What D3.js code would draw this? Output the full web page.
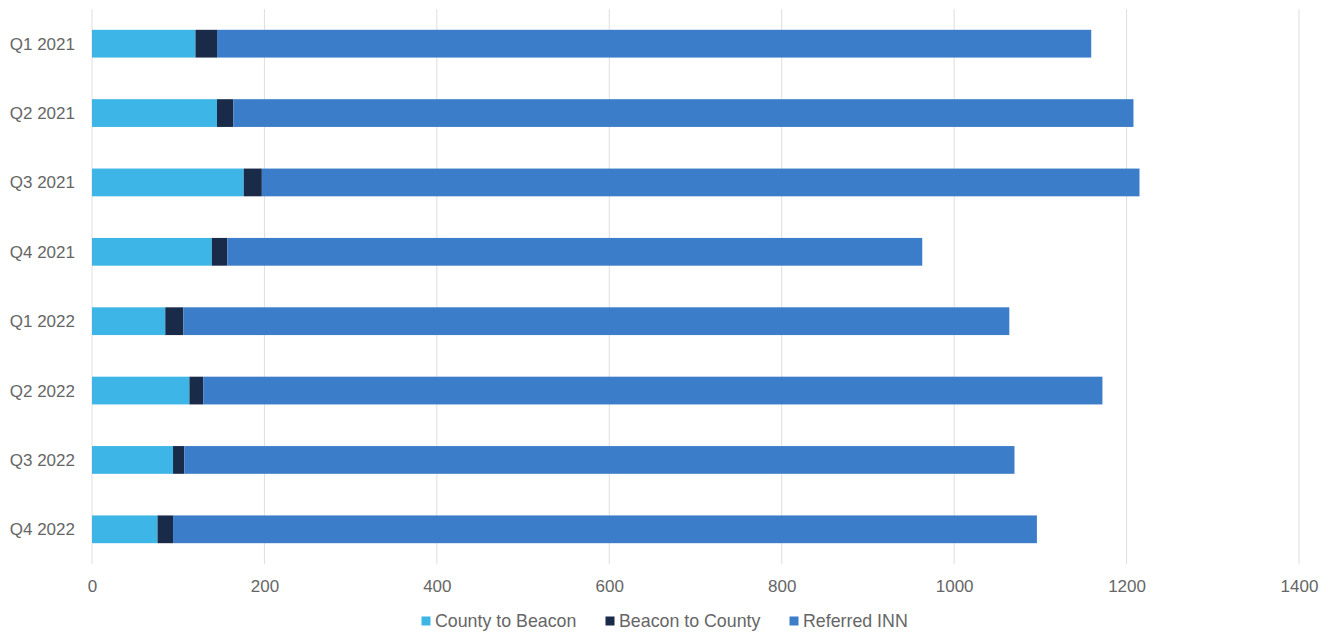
<!DOCTYPE html>
<html><head><meta charset="utf-8">
<script src="https://cdn.jsdelivr.net/npm/d3@7/dist/d3.min.js"></script>
<style>body{margin:0;background:#fff;}text{font-family:"Liberation Sans",Arial,sans-serif;}</style>
</head><body><svg id="c" width="1331" height="634"></svg>
<script>
const categories = ["Q1 2021","Q2 2021","Q3 2021","Q4 2021","Q1 2022","Q2 2022","Q3 2022","Q4 2022"];
const seriesNames = ["County to Beacon","Beacon to County","Referred INN"];
const countyToBeacon = [120,145,176,139,85,113,94,76];
const beaconToCounty = [25,19,21,18,21,16,13,18];
const referredINN = [1014,1044,1018,806,958,1043,963,1002];
const xTicks = [0,200,400,600,800,1000,1200,1400];
const colors = ["#3db5e6","#1a2b4a","#3c7dc9"];

const svg = d3.select("#c");
const x = d3.scaleLinear().domain([0,1400]).range([92,1299]);
const y = d3.scaleBand().domain(categories).range([9,564]).paddingInner(0.6).paddingOuter(0.3);

// gridlines
svg.append("g").selectAll("line").data(xTicks).join("line")
  .attr("x1",d=>x(d)).attr("x2",d=>x(d)).attr("y1",9).attr("y2",564)
  .attr("stroke","#dedede").attr("stroke-width",1);

const data = categories.map((c,i)=>({cat:c, "County to Beacon":countyToBeacon[i], "Beacon to County":beaconToCounty[i], "Referred INN":referredINN[i]}));
const stacked = d3.stack().keys(seriesNames)(data);

svg.append("g").selectAll("g").data(stacked).join("g")
  .attr("fill",(d,i)=>colors[i])
  .selectAll("rect").data(d=>d).join("rect")
  .attr("x",d=>x(d[0])).attr("width",d=>x(d[1])-x(d[0]))
  .attr("y",d=>y(d.data.cat)).attr("height",y.bandwidth());

// y labels
svg.append("g").selectAll("text").data(categories).join("text")
  .attr("x",75).attr("y",d=>y(d)+y.bandwidth()/2).attr("dy","0.35em")
  .attr("text-anchor","end").attr("fill","#666666").attr("font-size",17).text(d=>d);

// x axis
const xAxis = d3.axisBottom(x).tickValues(xTicks).tickFormat(d3.format("d")).tickSize(0).tickPadding(14);
const gx = svg.append("g").attr("transform","translate(0,566)").call(xAxis);
gx.select(".domain").remove();
gx.selectAll("text").attr("fill","#666666").attr("font-size",17).attr("font-family","'Liberation Sans',Arial,sans-serif");

// legend
const legendX = [421.5,605.5,789.5];
const lg = svg.append("g").selectAll("g").data(seriesNames).join("g")
  .attr("transform",(d,i)=>`translate(${legendX[i]},621)`);
lg.append("rect").attr("x",0).attr("y",-4.5).attr("width",9).attr("height",9).attr("fill",(d,i)=>colors[i]);
lg.append("text").attr("x",13.5).attr("y",0).attr("dy","0.35em").attr("fill","#666666").attr("font-size",17.8).text(d=>d);
</script></body></html>
